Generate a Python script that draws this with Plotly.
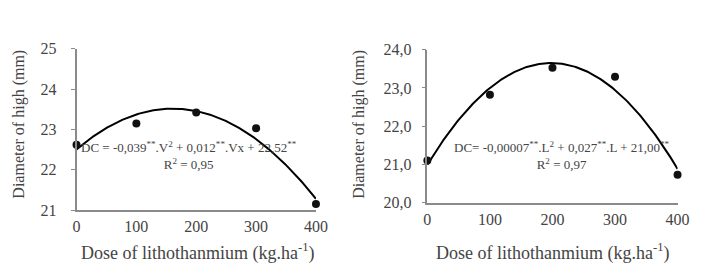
import numpy as np
import plotly.graph_objects as go

# ---- data ----
dose = [0, 100, 200, 300, 400]
left_vals = [22.62, 23.15, 23.42, 23.03, 21.15]
right_vals = [21.10, 22.82, 23.53, 23.29, 20.73]

left_yticks = [21, 22, 23, 24, 25]
left_yticktext = ["21", "22", "23", "24", "25"]
right_yticks = [20, 21, 22, 23, 24]
right_yticktext = ["20,0", "21,0", "22,0", "23,0", "24,0"]
x_ticks = [0, 100, 200, 300, 400]
x_ticktext = ["0", "100", "200", "300", "400"]

x_title = "Dose of lithothanmium (kg.ha<sup>-1</sup>)"
y_title = "Diameter of high (mm)"
left_eq = "DC = -0,039<sup>**</sup>.V<sup>2</sup> + 0,012<sup>**</sup>.Vx + 22,52<sup>**</sup><br>R<sup>2</sup> = 0,95"
right_eq = "DC= -0,00007<sup>**</sup>.L<sup>2</sup> + 0,027<sup>**</sup>.L + 21,00<sup>**</sup><br>R<sup>2</sup> = 0,97"

# quadratic trendlines fitted to the points
xs = np.linspace(0, 400, 200)
cl = np.polyfit(dose, left_vals, 2)
cr = np.polyfit(dose, right_vals, 2)

FONT = "Liberation Serif"
TXT = "#444444"
AX = "#8a8a8a"
W, H = 706, 272

fig = go.Figure()
fig.add_trace(go.Scatter(x=xs, y=np.polyval(cl, xs), mode="lines",
                         line=dict(color="black", width=2), xaxis="x", yaxis="y",
                         showlegend=False, hoverinfo="skip"))
fig.add_trace(go.Scatter(x=dose, y=left_vals, mode="markers",
                         marker=dict(color="#111111", size=8), xaxis="x", yaxis="y",
                         showlegend=False, cliponaxis=False))
fig.add_trace(go.Scatter(x=xs, y=np.polyval(cr, xs), mode="lines",
                         line=dict(color="black", width=2), xaxis="x2", yaxis="y2",
                         showlegend=False, hoverinfo="skip"))
fig.add_trace(go.Scatter(x=dose, y=right_vals, mode="markers",
                         marker=dict(color="#111111", size=8), xaxis="x2", yaxis="y2",
                         showlegend=False, cliponaxis=False))

def xaxis(domain, anchor):
    return dict(domain=domain, anchor=anchor, range=[0, 400], tickvals=x_ticks,
                ticktext=x_ticktext, showgrid=False, zeroline=False, showline=True,
                linecolor=AX, linewidth=1.5, ticks="", ticklabelstandoff=1,
                tickfont=dict(family=FONT, size=16, color=TXT))

def yaxis(domain, anchor, rng, tv, tt, standoff):
    return dict(domain=domain, anchor=anchor, range=rng, tickvals=tv, ticktext=tt,
                showgrid=False, zeroline=False, showline=True, linecolor=AX,
                linewidth=1.5, ticks="outside", ticklen=4, tickcolor=AX,
                ticklabelstandoff=standoff,
                tickfont=dict(family=FONT, size=16, color=TXT))

fig.update_layout(
    width=W, height=H, margin=dict(l=0, r=0, t=0, b=0),
    plot_bgcolor="white", paper_bgcolor="white",
    xaxis=xaxis([66 / W, 311 / W], "y"),
    yaxis=yaxis([1 - 207 / H, 1 - 35 / H], "x", [21, 25], left_yticks, left_yticktext, 11),
    xaxis2=xaxis([425 / W, 681 / W], "y2"),
    yaxis2=yaxis([1 - 199 / H, 1 - 36 / H], "x2", [20, 24], right_yticks, right_yticktext, 7),
)

xt_font = dict(family=FONT, size=18, color=TXT)
yt_font = dict(family=FONT, size=16, color=TXT)
eq_font = dict(family=FONT, size=13, color=TXT)
fig.add_annotation(text=x_title, x=190 / W, y=1 - 252 / H, xref="paper", yref="paper",
                   showarrow=False, font=xt_font, xanchor="center", yanchor="middle")
fig.add_annotation(text=x_title, x=553 / W, y=1 - 252 / H, xref="paper", yref="paper",
                   showarrow=False, font=xt_font, xanchor="center", yanchor="middle")
fig.add_annotation(text=y_title, x=7 / W, y=1 - 115 / H, xref="paper", yref="paper",
                   showarrow=False, font=yt_font, textangle=-90, xanchor="center", yanchor="middle")
fig.add_annotation(text=y_title, x=355 / W, y=1 - 115 / H, xref="paper", yref="paper",
                   showarrow=False, font=yt_font, textangle=-90, xanchor="center", yanchor="middle")
fig.add_annotation(text=left_eq, x=181 / W, y=1 - 149 / H, xref="paper", yref="paper",
                   showarrow=False, font=eq_font, align="center", xanchor="center", yanchor="middle")
fig.add_annotation(text=right_eq, x=563 / W, y=1 - 149 / H, xref="paper", yref="paper",
                   showarrow=False, font=eq_font, align="center", xanchor="center", yanchor="middle")

fig.write_html("out.html")
